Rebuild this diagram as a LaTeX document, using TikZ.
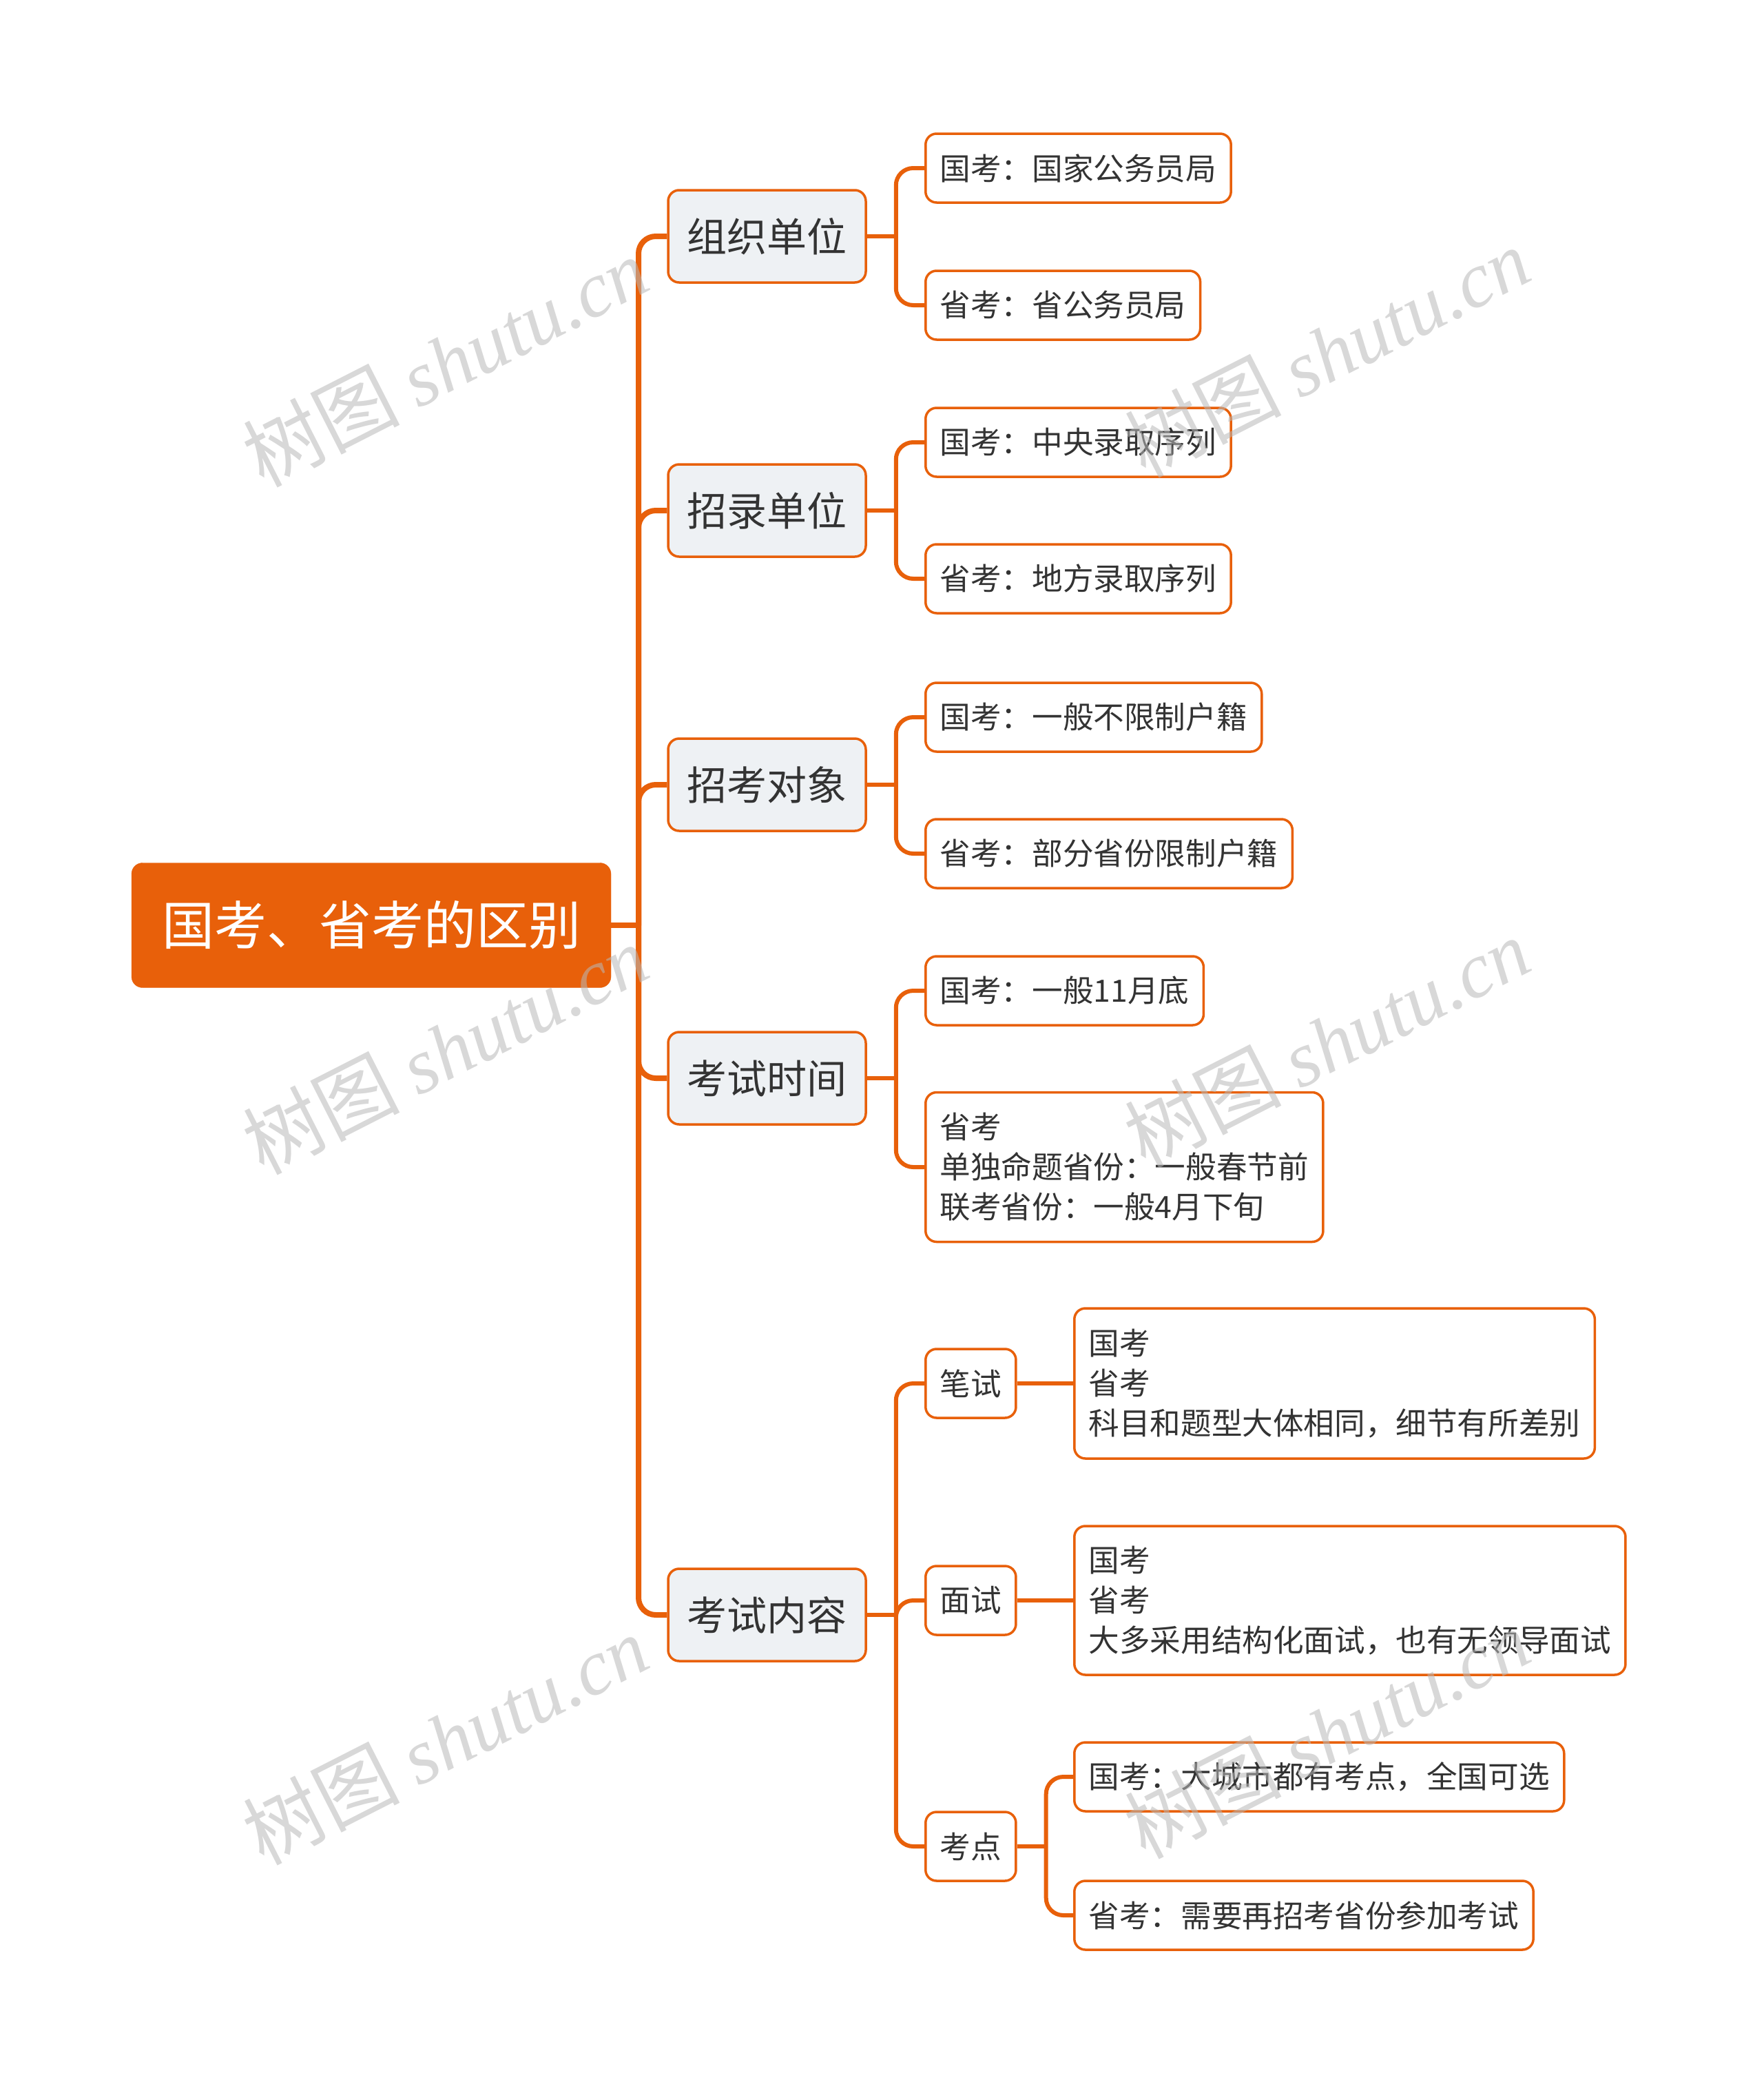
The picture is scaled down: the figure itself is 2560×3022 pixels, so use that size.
\documentclass[tikz,border=0pt]{standalone}
\usepackage{fontspec}
\setmainfont{Noto Sans CJK SC}
\newfontfamily\wmlatin{Liberation Serif}
\definecolor{orangeMain}{HTML}{E8600A}
\definecolor{lvlfill}{HTML}{EEF1F4}
\definecolor{txt}{HTML}{333333}
\definecolor{wm}{HTML}{B8B8B8}
\begin{document}
\begin{tikzpicture}[x=1pt,y=-1pt]
\useasboundingbox[fill=white] (0,0) rectangle (2560,3022);
\tikzset{
 rootbox/.style={fill=orangeMain, draw=orangeMain, rounded corners=16pt, text=white, font=\fontsize{76pt}{90pt}\selectfont, minimum width=696pt, minimum height=181pt, inner sep=0pt},
 lonebox/.style={fill=lvlfill, draw=orangeMain, line width=3.5pt, rounded corners=16pt, text=txt, font=\fontsize{58pt}{70pt}\selectfont, minimum width=287pt, minimum height=134pt, inner sep=0pt},
 leafbox/.style={fill=white, draw=orangeMain, line width=3.5pt, rounded corners=16pt, text=txt, font=\fontsize{44.6pt}{58pt}\selectfont, minimum height=100pt, inner xsep=21pt, inner ysep=0pt, align=left, anchor=west},
 connA/.style={draw=orangeMain, line width=8pt, rounded corners=25pt},
 connB/.style={draw=orangeMain, line width=6pt, rounded corners=25pt},
 wmark/.style={text=wm, opacity=0.55, rotate=27, font=\fontsize{114pt}{120pt}\selectfont, inner sep=0pt}
}
% root
\node[rootbox] (root) at (539,1343) {国考、省考的区别};
% level 1
\node[lonebox] (la) at (1113.5,343) {组织单位};
\node[lonebox] (lb) at (1113.5,741) {招录单位};
\node[lonebox] (lc) at (1113.5,1139) {招考对象};
\node[lonebox] (ld) at (1113.5,1565) {考试时间};
\node[lonebox] (le) at (1113.5,2344) {考试内容};
% leaves
\node[leafbox] (a1) at (1342,244) {国考：国家公务员局};
\node[leafbox] (a2) at (1342,443) {省考：省公务员局};
\node[leafbox] (b1) at (1342,642) {国考：中央录取序列};
\node[leafbox] (b2) at (1342,840) {省考：地方录取序列};
\node[leafbox] (c1) at (1342,1041) {国考：一般不限制户籍};
\node[leafbox] (c2) at (1342,1239) {省考：部分省份限制户籍};
\node[leafbox] (d1) at (1342,1438) {国考：一般11月底};
\node[leafbox, minimum height=217pt] (d2) at (1342,1694) {省考\\单独命题省份：一般春节前\\联考省份：一般4月下旬};
\node[leafbox] (e1) at (1342,2008) {笔试};
\node[leafbox] (e2) at (1342,2323) {面试};
\node[leafbox] (e3) at (1342,2680) {考点};
% level 3
\node[leafbox, minimum height=218pt] (f1) at (1558,2008) {国考\\省考\\科目和题型大体相同，细节有所差别};
\node[leafbox, minimum height=216pt] (g1) at (1558,2323) {国考\\省考\\大多采用结构化面试，也有无领导面试};
\node[leafbox] (h1) at (1558,2579) {国考：大城市都有考点，全国可选};
\node[leafbox] (h2) at (1558,2780) {省考：需要再招考省份参加考试};
% connectors root -> level1
\coordinate (rj) at (927,1343);
\draw[connA] (root.east) -- (rj);
\foreach \n in {la,lb,lc,ld,le}{
  \draw[connA] (rj) -- (rj |- \n.west) -- (\n.west);
}
% level1 -> leaves
\foreach \p/\ca/\cb in {la/a1/a2, lb/b1/b2, lc/c1/c2, ld/d1/d2}{
  \coordinate (j\p) at ([xshift=42pt]\p.east);
  \draw[connB] (\p.east) -- (j\p);
  \draw[connB] (j\p) -- (j\p |- \ca.west) -- (\ca.west);
  \draw[connB] (j\p) -- (j\p |- \cb.west) -- (\cb.west);
}
\coordinate (jle) at ([xshift=42pt]le.east);
\draw[connB] (le.east) -- (jle);
\foreach \n in {e1,e2,e3}{
  \draw[connB] (jle) -- (jle |- \n.west) -- (\n.west);
}
\draw[connB] (e1.east) -- (f1.west);
\draw[connB] (e2.east) -- (g1.west);
\coordinate (je3) at ([xshift=42pt]e3.east);
\draw[connB] (e3.east) -- (je3);
\draw[connB] (je3) -- (je3 |- h1.west) -- (h1.west);
\draw[connB] (je3) -- (je3 |- h2.west) -- (h2.west);
% watermarks
\node[wmark] (w1) at (646,525) {树图 {\wmlatin\itshape shutu.cn}};
\node[wmark] (w2) at (1926,511) {树图 {\wmlatin\itshape shutu.cn}};
\node[wmark] (w3) at (646,1523) {树图 {\wmlatin\itshape shutu.cn}};
\node[wmark] (w4) at (1926,1513) {树图 {\wmlatin\itshape shutu.cn}};
\node[wmark] (w5) at (646,2525) {树图 {\wmlatin\itshape shutu.cn}};
\node[wmark] (w6) at (1926,2516) {树图 {\wmlatin\itshape shutu.cn}};
\end{tikzpicture}
\end{document}
